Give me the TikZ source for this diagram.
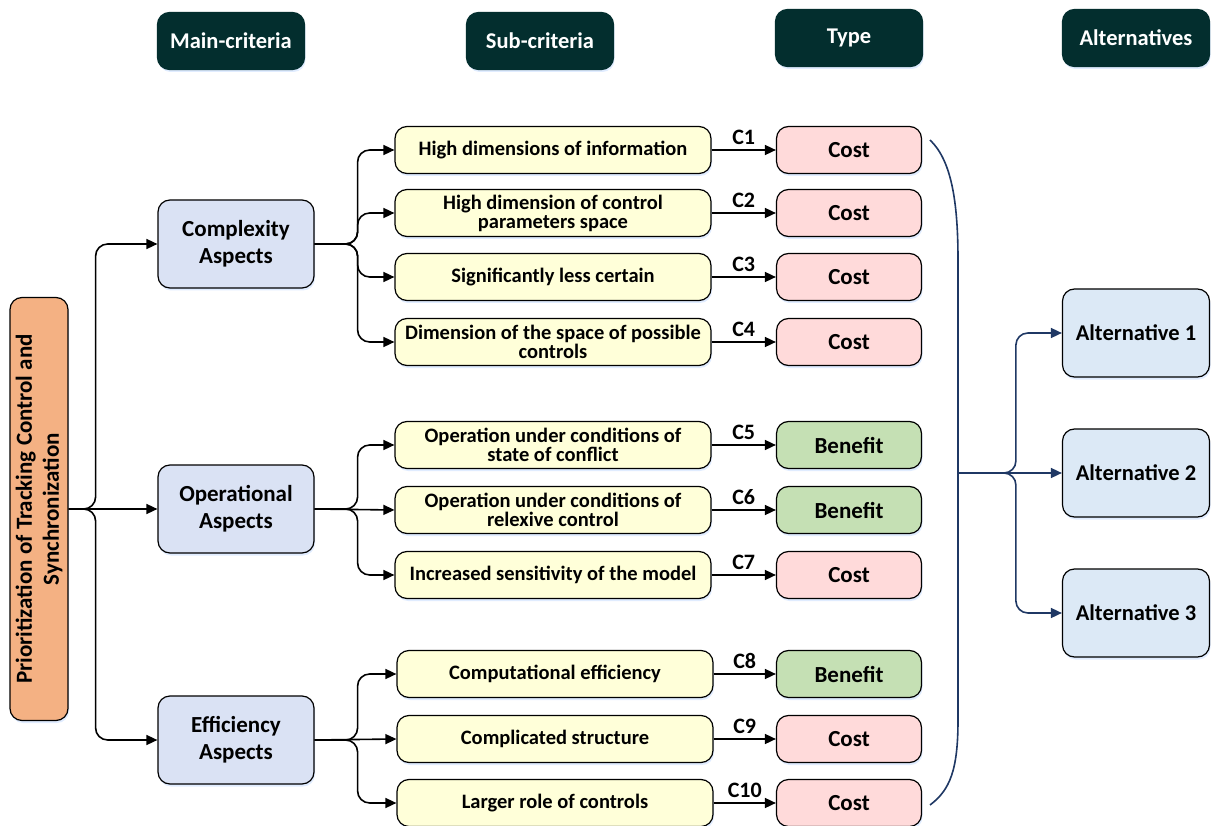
\documentclass[tikz,border=0pt]{standalone}
\usepackage{fontspec}
\setmainfont{Carlito}
\usetikzlibrary{arrows.meta,shadows}

\definecolor{headgreen}{RGB}{3,46,46}
\definecolor{goalorange}{RGB}{244,177,131}
\definecolor{mainblue}{RGB}{218,226,244}
\definecolor{subyellow}{RGB}{255,255,217}
\definecolor{costpink}{RGB}{255,218,218}
\definecolor{benefitgreen}{RGB}{197,224,180}
\definecolor{altblue}{RGB}{220,233,246}
\definecolor{navyline}{RGB}{31,56,100}

\begin{document}
\begin{tikzpicture}[x=1pt,y=-1pt,
        box/.style={draw=black, line width=1.2pt, rounded corners=12pt,
           align=center, inner sep=2pt,
           drop shadow={shadow xshift=1pt, shadow yshift=-2.5pt,
              fill=blue!60!cyan, opacity=0.12}},
        head box/.style={box, draw=headgreen, fill=headgreen, text=white,
           minimum width=147pt, minimum height=57pt,
           font=\fontsize{22.5}{26}\selectfont\bfseries},
        goal box/.style={box, fill=goalorange, minimum width=423pt,
           minimum height=58pt, font=\fontsize{23}{27}\selectfont\bfseries},
        main box/.style={box, fill=mainblue, minimum width=156pt,
           minimum height=88pt, font=\fontsize{23}{27}\selectfont\bfseries},
        sub box/.style={box, fill=subyellow, minimum width=316pt,
           minimum height=47pt, font=\fontsize{20.5}{19}\selectfont\bfseries},
        cost box/.style={box, fill=costpink, minimum width=145pt,
           minimum height=47pt, font=\fontsize{23}{26}\selectfont\bfseries},
        benefit box/.style={cost box, fill=benefitgreen},
        alt box/.style={box, fill=altblue, minimum width=147pt,
           minimum height=88pt, font=\fontsize{22.5}{26}\selectfont\bfseries},
        clabel/.style={above=1pt, font=\fontsize{22}{25}\selectfont\bfseries},
        link/.style={line width=1.6pt, rounded corners=12pt,
           -{Triangle[length=11pt,width=10pt]}},
        navy link/.style={link, draw=navyline,
           -{Triangle[length=11pt,width=10pt]}},
    ]
    \useasboundingbox[fill=white] (0,0) rectangle (1213,826);

    % headers
    \node[head box] (hmain) at (231,41) {Main-criteria};
    \node[head box] (hsub) at (540,41) {Sub-criteria};
    \node[head box] (htype) at (849,38) {Type};
    \node[head box] (halt) at (1136,38) {Alternatives};

    % goal and main criteria
    \node[goal box, rotate=90] (goal) at (39,509)
        {Prioritization of Tracking Control and\\Synchronization};
    \node[main box] (cx) at (236,244) {Complexity\\Aspects};
    \node[main box] (op) at (236,509) {Operational\\Aspects};
    \node[main box] (ef) at (236,740) {Efficiency\\Aspects};

    % sub-criteria
    \node[sub box] (s1) at (553,150) {High dimensions of information};
    \node[sub box] (s2) at (553,213) {High dimension of control\\parameters space};
    \node[sub box] (s3) at (553,277) {Significantly less certain};
    \node[sub box] (s4) at (553,342) {Dimension of the space of possible\\controls};
    \node[sub box] (s5) at (553,445) {Operation under conditions of\\state of conflict};
    \node[sub box] (s6) at (553,510) {Operation under conditions of\\relexive control};
    \node[sub box] (s7) at (553,575) {Increased sensitivity of the model};
    \node[sub box] (s8) at (555,674) {Computational efficiency};
    \node[sub box] (s9) at (555,739) {Complicated structure};
    \node[sub box] (s10) at (555,803) {Larger role of controls};

    % type
    \node[cost box] (t1) at (849,150) {Cost};
    \node[cost box] (t2) at (849,213) {Cost};
    \node[cost box] (t3) at (849,277) {Cost};
    \node[cost box] (t4) at (849,342) {Cost};
    \node[benefit box] (t5) at (849,445) {Benefit};
    \node[benefit box] (t6) at (849,510) {Benefit};
    \node[cost box] (t7) at (849,575) {Cost};
    \node[benefit box] (t8) at (849,674) {Benefit};
    \node[cost box] (t9) at (849,739) {Cost};
    \node[cost box] (t10) at (849,803) {Cost};

    % alternatives
    \node[alt box] (a1) at (1136,333) {Alternative 1};
    \node[alt box] (a2) at (1136,473) {Alternative 2};
    \node[alt box] (a3) at (1136,613) {Alternative 3};

    % goal -> main criteria
    \draw[link] (goal.south) -- ++(27,0) |- (cx.west);
    \draw[link] (goal.south) -- (op.west);
    \draw[link] (goal.south) -- ++(27,0) |- (ef.west);

    % main -> sub-criteria
    \draw[link] (cx.east) -- ++(43,0) |- (s1.west);
    \draw[link] (cx.east) -- ++(43,0) |- (s2.west);
    \draw[link] (cx.east) -- ++(43,0) |- (s3.west);
    \draw[link] (cx.east) -- ++(43,0) |- (s4.west);
    \draw[link] (op.east) -- ++(43,0) |- (s5.west);
    \draw[link] (op.east) -- (s6.west);
    \draw[link] (op.east) -- ++(43,0) |- (s7.west);
    \draw[link] (ef.east) -- ++(43,0) |- (s8.west);
    \draw[link] (ef.east) -- (s9.west);
    \draw[link] (ef.east) -- ++(43,0) |- (s10.west);

    % sub-criteria -> type
    \draw[link]
        (s1) edge node[clabel] {C1} (t1)
        (s2) edge node[clabel] {C2} (t2)
        (s3) edge node[clabel] {C3} (t3)
        (s4) edge node[clabel] {C4} (t4)
        (s5) edge node[clabel] {C5} (t5)
        (s6) edge node[clabel] {C6} (t6)
        (s7) edge node[clabel] {C7} (t7)
        (s8) edge node[clabel] {C8} (t8)
        (s9) edge node[clabel] {C9} (t9)
        (s10) edge node[clabel] {C10} (t10)
        ;

    % bracket -> alternatives
    \coordinate (brtop) at (930,140);
    \coordinate (brbot) at (930,805);
    \coordinate (brmid) at (958,473);
    \coordinate (brtip) at (1005,473);
    \draw[navyline, line width=1.6pt]
        (brtop) .. controls (951,160) and (958,200) .. (958,260)
        -- (958,720) .. controls (958,770) and (950,790) .. (brbot);
    \draw[navy link] (brmid) -- (a2.west);
    \draw[navy link] (brtip) -| ([xshift=-46pt]a1.west) -- (a1.west);
    \draw[navy link] (brtip) -| ([xshift=-46pt]a3.west) -- (a3.west);
\end{tikzpicture}
\end{document}
